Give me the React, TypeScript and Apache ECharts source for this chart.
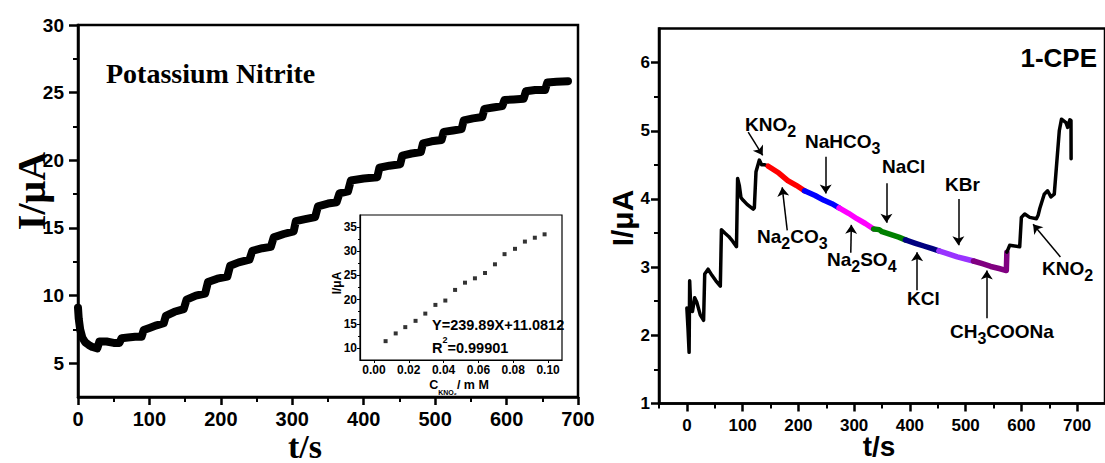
import React, { useEffect, useRef } from 'react';
import * as echarts from 'echarts';

const AX = "Arial, 'Liberation Sans', Helvetica, sans-serif";
const TNR = "'Times New Roman', 'Liberation Serif', Times, serif";

// ---- Left panel: amperometric response to successive KNO2 additions (t / s, I / uA)
const nitriteCurve: [number, number][] = [
  [0, 9.1], [1, 8.3], [3, 7.5], [6, 6.9], [10, 6.55], [15, 6.35], [20, 6.2], [27, 6.1],
  [30, 6.6], [40, 6.6], [50, 6.5], [58, 6.5],
  [61, 6.85], [70, 6.9], [80, 6.95], [89, 6.95],
  [92, 7.45], [100, 7.6], [110, 7.8], [120, 7.95],
  [123, 8.5], [135, 8.8], [148, 9.0],
  [152, 9.7], [165, 10.0], [178, 10.15],
  [182, 11.0], [195, 11.25], [209, 11.4],
  [213, 12.2], [225, 12.45], [240, 12.65],
  [244, 13.3], [258, 13.5], [270, 13.6],
  [274, 14.3], [288, 14.55], [302, 14.75],
  [305, 15.5], [318, 15.65], [332, 15.8],
  [336, 16.6], [350, 16.8], [362, 16.9],
  [366, 17.55], [378, 17.7],
  [382, 18.5], [400, 18.65], [419, 18.75],
  [422, 19.45], [436, 19.6], [451, 19.7],
  [454, 20.35], [467, 20.5], [480, 20.6],
  [483, 21.25], [495, 21.4], [509, 21.5],
  [512, 22.1], [525, 22.2], [537, 22.3],
  [540, 22.95], [553, 23.1], [566, 23.2],
  [569, 23.8], [581, 23.9], [594, 24.0],
  [597, 24.45], [610, 24.5], [624, 24.55],
  [627, 25.1], [640, 25.2], [654, 25.2],
  [657, 25.75], [670, 25.8], [686, 25.85],
];

// ---- Inset: calibration points
const insetConc = [0.0067, 0.0125, 0.018, 0.0239, 0.0295, 0.0353, 0.041, 0.0466, 0.0523, 0.058, 0.0638, 0.0695, 0.075, 0.081, 0.0867, 0.0924, 0.098];
const insetCurrent = [11.4, 13.0, 14.3, 15.6, 17.1, 18.9, 19.8, 22.0, 23.5, 24.4, 25.5, 27.3, 29.4, 30.5, 32.0, 32.8, 33.5];

// ---- Right panel: interference study (1-CPE)
const kno2Start: [number, number][] = [
  [0, 2.4], [2, 2.1], [4, 1.75], [5, 2.8], [7, 2.4], [10, 2.35], [14, 2.55], [18, 2.48], [24, 2.3], [30, 2.22],
  [32, 2.9], [38, 2.97], [45, 2.88], [52, 2.8], [60, 2.72],
  [62, 3.55], [68, 3.5], [75, 3.45], [82, 3.38], [89, 3.3],
  [91, 4.3], [94, 4.2], [97, 4.02], [101, 3.98], [108, 3.92], [119, 3.85], [121, 3.87],
  [124, 4.4], [130, 4.57], [134, 4.5], [140, 4.5], [146, 4.48],
];
const na2co3Seg: [number, number][] = [[146, 4.48], [165, 4.38], [181, 4.27], [196, 4.2], [211, 4.12]];
const nahco3Seg: [number, number][] = [[211, 4.12], [230, 4.05], [246, 3.98], [260, 3.93], [273, 3.87]];
const na2so4Seg: [number, number][] = [[273, 3.87], [290, 3.79], [305, 3.71], [320, 3.64], [335, 3.56]];
const naclSeg: [number, number][] = [[335, 3.56], [345, 3.55], [350, 3.52], [365, 3.48], [380, 3.44], [392, 3.4]];
const kclSeg: [number, number][] = [[392, 3.4], [410, 3.35], [425, 3.31], [440, 3.27], [452, 3.24]];
const kbrSeg: [number, number][] = [[452, 3.24], [470, 3.19], [485, 3.15], [500, 3.12], [514, 3.09]];
const ch3cooNaSeg: [number, number][] = [[514, 3.09], [530, 3.05], [545, 3.01], [560, 2.98], [573, 2.95], [574, 3.22]];
const kno2End: [number, number][] = [
  [574, 3.22], [579, 3.32], [597, 3.3], [600, 3.73], [606, 3.78], [615, 3.73], [627, 3.71], [630, 3.76],
  [633, 3.86], [641, 4.07], [647, 4.12], [653, 4.03], [659, 4.07], [668, 5.0], [672, 5.17], [680, 5.12],
  [683, 5.05], [687, 5.16], [689, 5.15], [689.2, 4.59],
];
const segColors = ['#ff0000', '#0000ff', '#ff00ff', '#008000', '#000080', '#9933ff', '#800080'];

// arrows (tail -> tip) in data units of the right panel
const arrowTails: [number, number][] = [[110, 4.98], [249, 4.62], [180, 3.54], [358, 4.23], [294, 3.21], [487, 4.0], [413, 2.66], [538, 2.25], [670, 3.15]];
const arrowTips: [number, number][] = [[136, 4.64], [249, 4.08], [171, 4.17], [358, 3.65], [295, 3.62], [487, 3.32], [413, 3.22], [538, 2.95], [621, 3.63]];

// tick values
const leftXTicks = [0, 100, 200, 300, 400, 500, 600, 700];
const leftYTicks = [5, 10, 15, 20, 25, 30];
const leftYMinor = [7.5, 12.5, 17.5, 22.5, 27.5];
const insetXTicks = [0, 0.02, 0.04, 0.06, 0.08, 0.1];
const insetYTicks = [10, 15, 20, 25, 30, 35];
const insetYMinor = [12.5, 17.5, 22.5, 27.5, 32.5];
const rightXTicks = [0, 100, 200, 300, 400, 500, 600, 700];
const rightXMinor = [-50, 50, 150, 250, 350, 450, 550, 650];
const rightYTicks = [1, 2, 3, 4, 5, 6];
const rightYMinor = [1.5, 2.5, 3.5, 4.5, 5.5];

const chemRich = {
  m: { fontSize: 19, fontWeight: 'bold', fontFamily: AX, fill: '#000', color: '#000', verticalAlign: 'top', lineHeight: 19 },
  s: { fontSize: 16, fontWeight: 'bold', fontFamily: AX, fill: '#000', color: '#000', verticalAlign: 'bottom', lineHeight: 24 },
};

function chemLabel(x: number, y: number, text: string) {
  return {
    type: 'text', x, y, z: 100,
    style: { text, rich: chemRich, fill: '#000', align: 'left', textAlign: 'left', verticalAlign: 'top', textVerticalAlign: 'top', fontSize: 19, fontFamily: AX, fontWeight: 'bold' },
  };
}

function plainText(x: number, y: number, text: string, size: number, family: string, opts: any = {}) {
  return {
    type: 'text', x, y, z: 100, rotation: opts.rotation || 0,
    style: {
      text, fill: '#000', fontSize: size, fontFamily: family, fontWeight: opts.weight || 'bold',
      align: opts.align || 'center', textAlign: opts.align || 'center',
      verticalAlign: 'middle', textVerticalAlign: 'middle', rich: opts.rich,
    },
  };
}

function axisBase(gridIndex: number, min: number, max: number, lw: number) {
  return {
    gridIndex, type: 'value', min, max,
    axisLine: { show: true, onZero: false, lineStyle: { color: '#000', width: lw } },
    axisLabel: { show: false },
    splitLine: { show: false },
    minorSplitLine: { show: false },
  };
}

function minorAxis(gridIndex: number, min: number, max: number, vals: number[], len: number, lw: number, position: string) {
  return {
    ...axisBase(gridIndex, min, max, lw),
    position,
    axisLine: { show: false, onZero: false },
    axisTick: { show: true, length: len, customValues: vals, lineStyle: { color: '#000', width: lw } },
  };
}

export default function App() {
  const ref = useRef<HTMLDivElement>(null);
  useEffect(() => {
    if (!ref.current) return;
    const chart = echarts.init(ref.current, undefined, { renderer: 'svg' });
    const rightSegs = [na2co3Seg, nahco3Seg, na2so4Seg, naclSeg, kclSeg, kbrSeg, ch3cooNaSeg];
    const lineSeries = (data: [number, number][], color: string, width: number, extra: any = {}) => ({
      type: 'line', xAxisIndex: 2, yAxisIndex: 4, data, showSymbol: false, symbol: 'none',
      lineStyle: { color, width, cap: 'round', join: 'round' }, itemStyle: { color }, z: 3, ...extra,
    });
    const option: any = {
      animation: false,
      backgroundColor: '#fff',
      grid: [
        { left: 78, top: 25, width: 500, height: 372, show: true, borderColor: '#000', borderWidth: 2.5, backgroundColor: 'transparent' },
        { left: 360, top: 215, width: 202, height: 145, show: true, borderColor: '#000', borderWidth: 1.2, backgroundColor: '#fff', z: 5 },
        { left: 659, top: 28.5, width: 454, height: 375, show: true, borderColor: '#000', borderWidth: 2.5, backgroundColor: 'transparent' },
      ],
      xAxis: [
        {
          ...axisBase(0, 0, 700, 2.5), position: 'bottom', interval: 100,
          axisTick: { show: true, length: 8, lineStyle: { color: '#000', width: 2.5 } },
          minorTick: { show: true, splitNumber: 2, length: 5, lineStyle: { color: '#000', width: 2 } },
        },
        {
          ...axisBase(1, -0.008, 0.108, 1.2), position: 'bottom', z: 6,
          axisTick: { show: true, length: 3, customValues: insetXTicks, lineStyle: { color: '#000', width: 1 } },
        },
        {
          ...axisBase(2, -50, 750, 2.5), position: 'bottom',
          axisTick: { show: true, length: 8, customValues: rightXTicks, lineStyle: { color: '#000', width: 2.5 } },
        },
        minorAxis(2, -50, 750, rightXMinor, 5, 2, 'bottom'),
      ],
      yAxis: [
        {
          ...axisBase(0, 2.5, 30, 2.5), position: 'left',
          axisTick: { show: true, length: 9, customValues: leftYTicks, lineStyle: { color: '#000', width: 2.5 } },
        },
        minorAxis(0, 2.5, 30, leftYMinor, 5, 2, 'left'),
        {
          ...axisBase(1, 7.5, 37.5, 1.2), position: 'left', z: 6,
          axisTick: { show: true, length: 3, customValues: insetYTicks, lineStyle: { color: '#000', width: 1 } },
        },
        { ...minorAxis(1, 7.5, 37.5, insetYMinor, 2, 1, 'left'), z: 6 },
        {
          ...axisBase(2, 1, 6.5, 2.5), position: 'left',
          axisTick: { show: true, length: 8, customValues: rightYTicks, lineStyle: { color: '#000', width: 2.5 } },
        },
        minorAxis(2, 1, 6.5, rightYMinor, 5, 2, 'left'),
      ],
      series: [
        {
          type: 'line', xAxisIndex: 0, yAxisIndex: 0, data: nitriteCurve, showSymbol: false, symbol: 'none',
          lineStyle: { color: '#000', width: 8, cap: 'round', join: 'round' }, z: 3,
        },
        {
          type: 'scatter', xAxisIndex: 1, yAxisIndex: 2, symbol: 'rect', symbolSize: 4, z: 7,
          data: insetConc.map((c, i) => [c, insetCurrent[i]]), itemStyle: { color: '#000' },
        },
        lineSeries(kno2Start, '#000', 3.5, {
          markLine: {
            silent: true, symbol: ['none', 'arrow'], symbolSize: 9, animation: false,
            lineStyle: { color: '#000', width: 1.5, type: 'solid' }, label: { show: false },
            data: arrowTails.map((t, i) => [{ coord: t }, { coord: arrowTips[i] }]),
          },
        }),
        ...rightSegs.map((seg, i) => lineSeries(seg, segColors[i], 5.5)),
        lineSeries(kno2End, '#000', 3.5),
      ],
    };
    chart.setOption(option);

    // bold tick labels, placed through the axes' own scales
    const g: any[] = [];
    const px = (axis: string, idx: number, v: number) => chart.convertToPixel({ [axis]: idx } as any, v) as unknown as number;
    leftXTicks.forEach((v) => g.push(plainText(px('xAxisIndex', 0, v), 419, String(v), 20, AX)));
    leftYTicks.forEach((v) => g.push(plainText(64, px('yAxisIndex', 0, v), String(v), 19, AX, { align: 'right' })));
    insetXTicks.forEach((v) => g.push({ ...plainText(px('xAxisIndex', 1, v), 370, v.toFixed(2), 12, AX), z: 110 }));
    insetYTicks.forEach((v) => g.push({ ...plainText(357, px('yAxisIndex', 2, v), String(v), 12, AX, { align: 'right' }), z: 110 }));
    rightXTicks.forEach((v) => g.push(plainText(px('xAxisIndex', 2, v), 425, String(v), 17, AX)));
    rightYTicks.forEach((v) => g.push(plainText(650, px('yAxisIndex', 4, v), String(v), 17, AX, { align: 'right' })));

    g.push(
      plainText(106, 73, 'Potassium Nitrite', 28, TNR, { align: 'left' }),
      plainText(31, 191, 'I/μA', 40, TNR, { rotation: Math.PI / 2 }),
      plainText(305, 446, 't/s', 34, TNR),
      plainText(432, 325, 'Y=239.89X+11.0812', 14.5, AX, { align: 'left' }),
      plainText(432, 345, '{a|R}{p|2}{a|=0.99901}', 14.5, AX, {
        align: 'left',
        rich: {
          a: { fontSize: 14.5, fontWeight: 'bold', fontFamily: AX, verticalAlign: 'bottom', lineHeight: 20 },
          p: { fontSize: 9, fontWeight: 'bold', fontFamily: AX, verticalAlign: 'top', lineHeight: 9 },
        },
      }),
      plainText(337, 283, 'I/μA', 12, AX, { rotation: Math.PI / 2 }),
      plainText(459, 387, '{c|C}{s|KNO₂}{c|/ m M}', 12, AX, {
        rich: {
          c: { fontSize: 12.5, fontWeight: 'bold', fontFamily: AX, verticalAlign: 'top', lineHeight: 13 },
          s: { fontSize: 7, fontWeight: 'bold', fontFamily: AX, verticalAlign: 'bottom', lineHeight: 17 },
        },
      }),
      plainText(1097, 58, '1-CPE', 26, AX, { align: 'right' }),
      plainText(622, 218, 'I/μA', 30, AX, { rotation: Math.PI / 2 }),
      plainText(879, 446, 't/s', 28, AX),
      chemLabel(745, 115, '{m|KNO}{s|2}'),
      chemLabel(805, 132, '{m|NaHCO}{s|3}'),
      chemLabel(882, 157, '{m|NaCl}'),
      chemLabel(945, 175, '{m|KBr}'),
      chemLabel(757, 227, '{m|Na}{s|2}{m|CO}{s|3}'),
      chemLabel(827, 250, '{m|Na}{s|2}{m|SO}{s|4}'),
      chemLabel(907, 289, '{m|KCl}'),
      chemLabel(950, 322, '{m|CH}{s|3}{m|COONa}'),
      chemLabel(1042, 259, '{m|KNO}{s|2}'),
    );
    chart.setOption({ graphic: g });
    return () => chart.dispose();
  }, []);
  return <div ref={ref} style={{ position: 'absolute', left: 0, top: 0, width: 1105, height: 463, background: '#fff' }} />;
}
